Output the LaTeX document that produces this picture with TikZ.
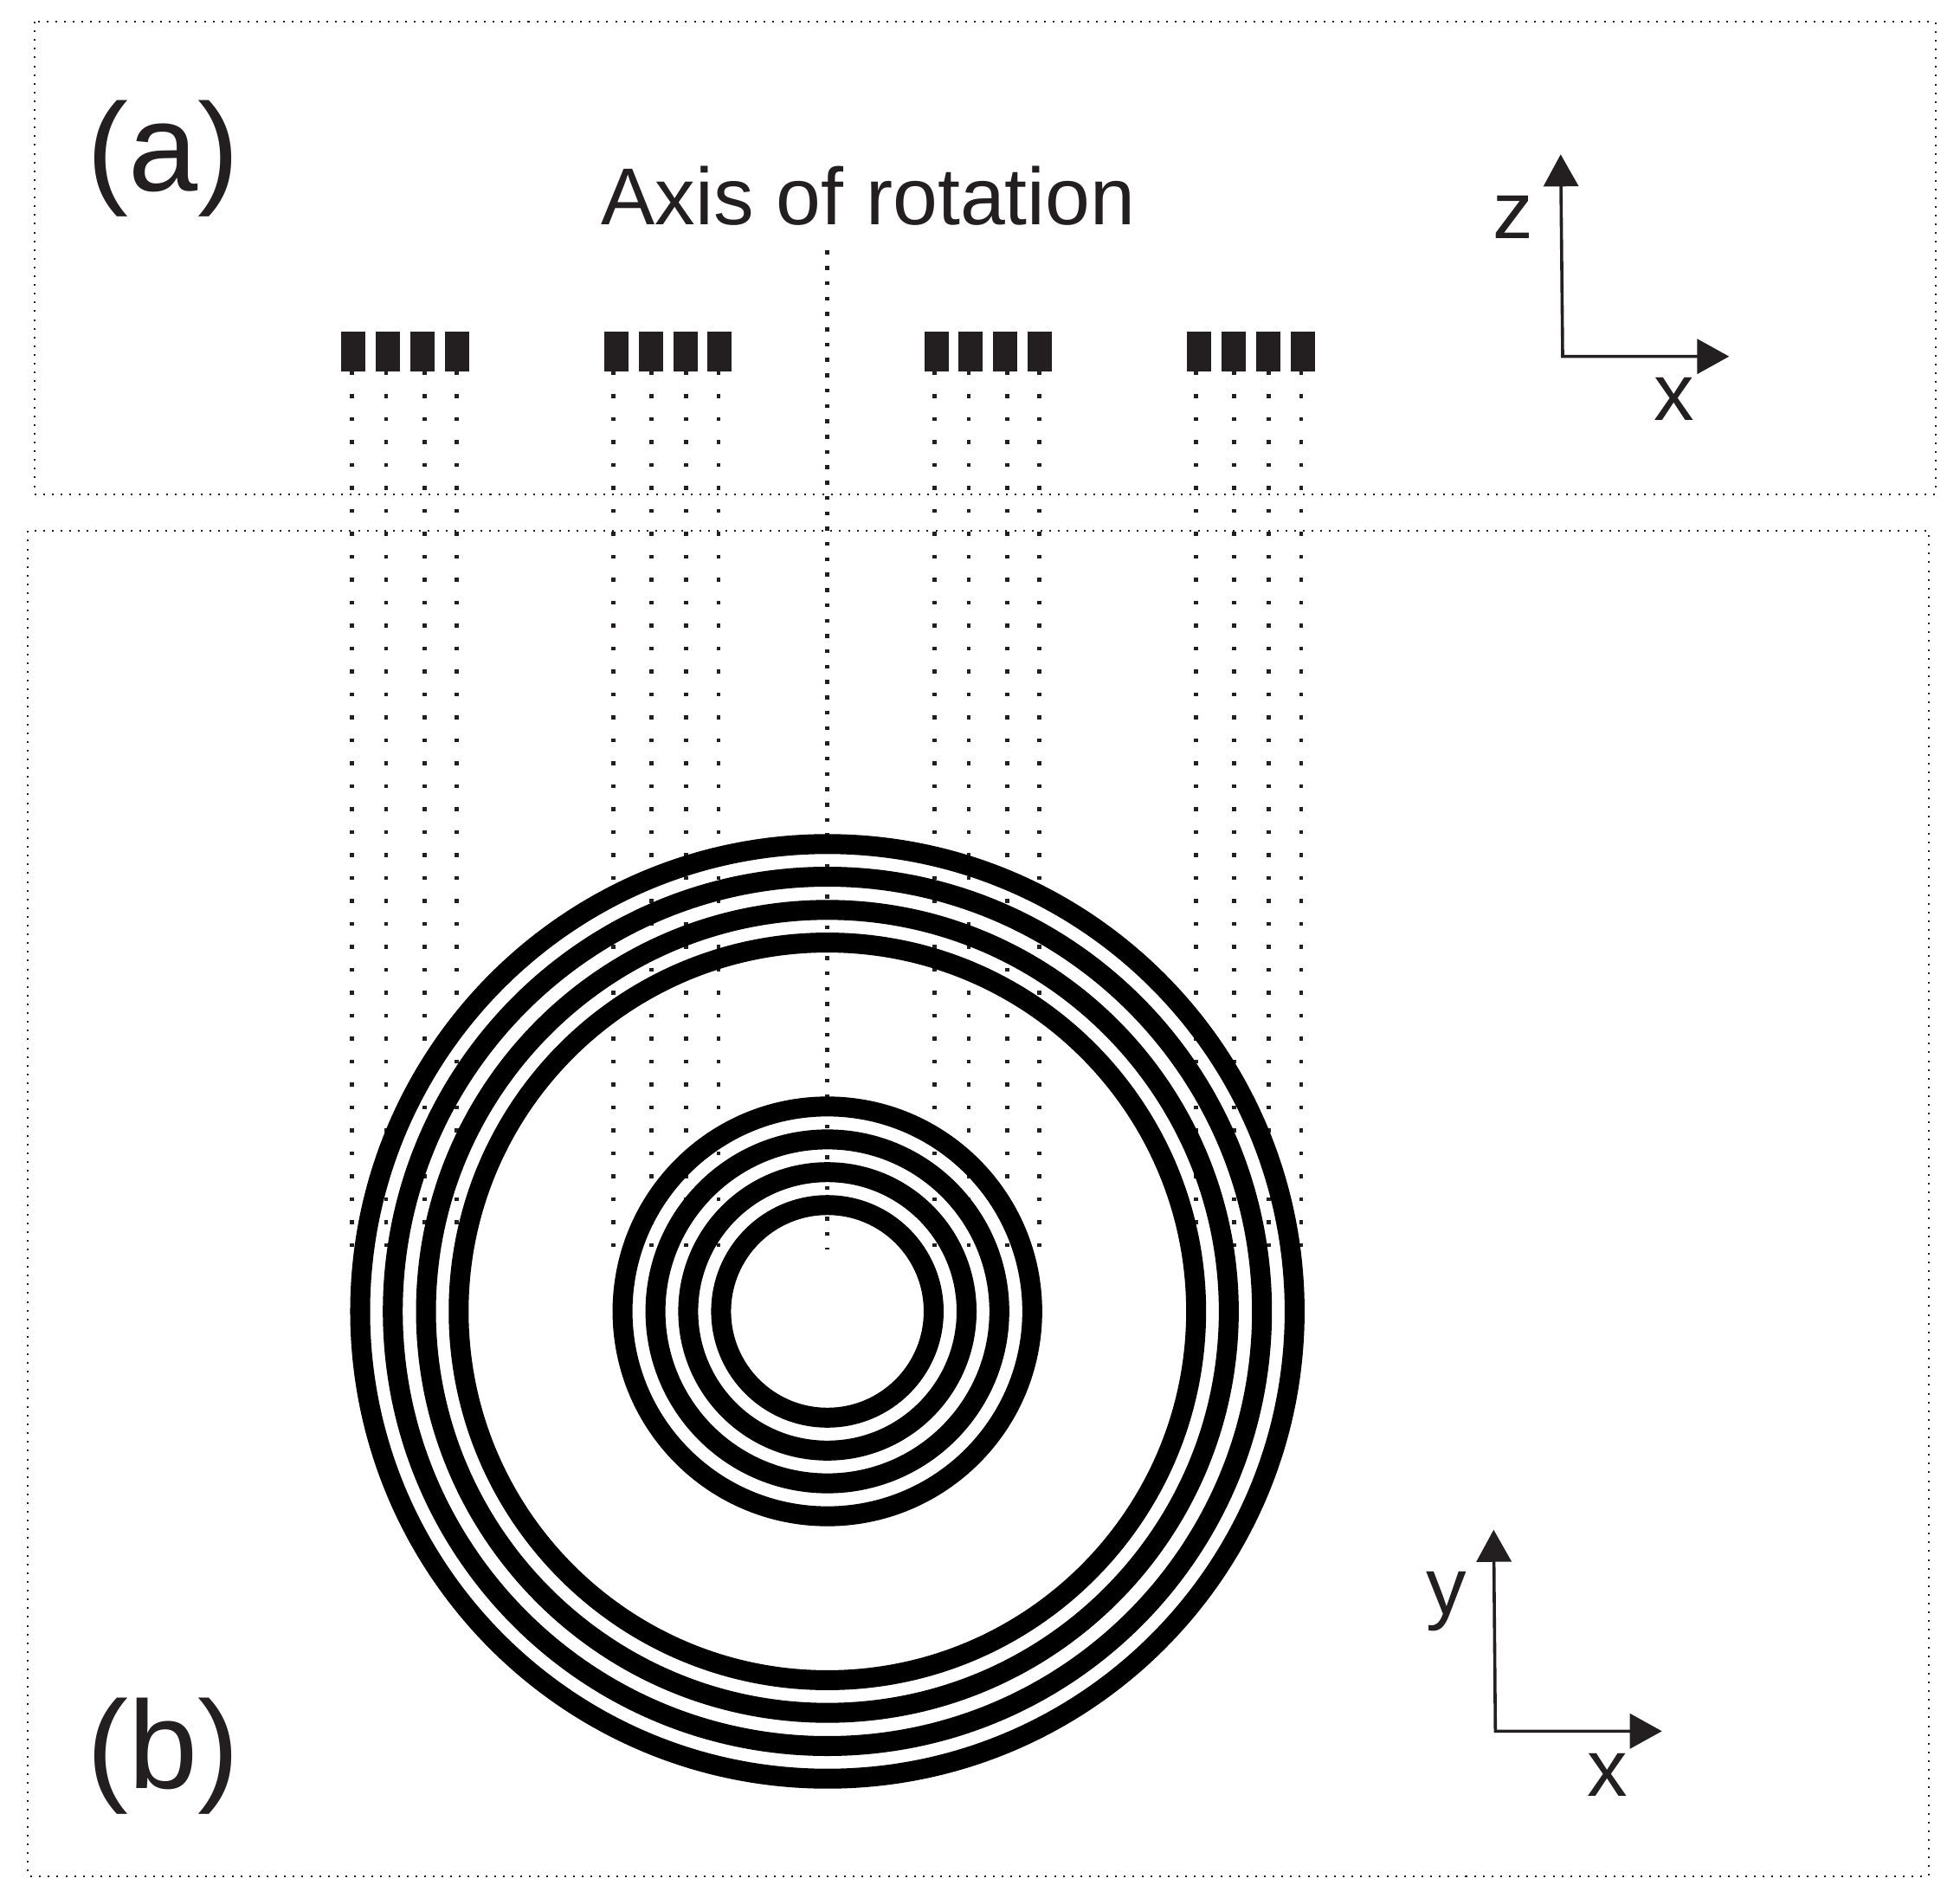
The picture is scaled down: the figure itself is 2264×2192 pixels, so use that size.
\documentclass[tikz,border=0pt]{standalone}
\usepackage{fontspec}
\setmainfont{Liberation Sans}
\usetikzlibrary{arrows.meta}
\definecolor{ink}{HTML}{231F20}

\begin{document}
\begin{tikzpicture}[x=0.01cm,y=-0.01cm]
       \tikzstyle{frame} = [draw=ink, line width=0.02cm, dash pattern=on 0.02cm off 0.081cm];
       \tikzstyle{coil} = [rectangle, fill=ink, inner sep=0pt, outer sep=0pt, minimum width=0.28cm, minimum height=0.455cm];
       \tikzstyle{drop} = [draw=ink, line width=0.045cm, dash pattern=on 0.045cm off 0.2198cm];
       \tikzstyle{spindle} = [draw=ink, line width=0.045cm, dash pattern=on 0.045cm off 0.132cm];
       \tikzstyle{ring} = [draw=black, line width=0.23cm];
       \tikzstyle{triad} = [draw=ink, line width=0.036cm, {Triangle[length=0.37cm,width=0.40cm]}-{Triangle[length=0.37cm,width=0.40cm]}];
       \tikzstyle{tag} = [text=ink, inner sep=0pt, anchor=base, font=\fontsize{26.5}{30}\selectfont];
       \tikzstyle{panel} = [text=ink, inner sep=0pt, anchor=base west, font=\fontsize{41}{44}\selectfont];

       \useasboundingbox (0,0) rectangle (2264,2192);

       % panels
       \draw[frame] (40,25) rectangle (2235.7,570.7);
       \draw[frame] (32.3,613.3) rectangle (2227.7,2166.7);
       \node[panel] (parta) at (100,220.5) {(a)};
       \node[panel] (partb) at (100,2065) {(b)};
       \node[tag] (axis) at (1003,260) {Axis of rotation};

       % coils, one block per side of the axis
       \node[coil] (a1) at (408.4,406) {};
       \node[coil] (a2) at (448,406) {};
       \node[coil] (a3) at (488,406) {};
       \node[coil] (a4) at (528,406) {};
       \node[coil] (b1) at (711.7,406) {};
       \node[coil] (b2) at (751.7,406) {};
       \node[coil] (b3) at (791.7,406) {};
       \node[coil] (b4) at (831.3,406) {};
       \node[coil] (c1) at (1081.5,406) {};
       \node[coil] (c2) at (1121.3,406) {};
       \node[coil] (c3) at (1161.3,406) {};
       \node[coil] (c4) at (1201,406) {};
       \node[coil] (d1) at (1385,406) {};
       \node[coil] (d2) at (1425,406) {};
       \node[coil] (d3) at (1464.7,406) {};
       \node[coil] (d4) at (1504.5,406) {};

       \coordinate (a1end) at (406.3,1440);
       \coordinate (a2end) at (446.1,1440);
       \coordinate (a3end) at (490.5,1440);
       \coordinate (a4end) at (527.6,1440);
       \coordinate (b1end) at (708.6,1440);
       \coordinate (b2end) at (752.6,1440);
       \coordinate (b3end) at (792.5,1440);
       \coordinate (b4end) at (830,1440);
       \coordinate (c1end) at (1079.3,1440);
       \coordinate (c2end) at (1119,1440);
       \coordinate (c3end) at (1163.3,1440);
       \coordinate (c4end) at (1200.7,1440);
       \coordinate (d1end) at (1381.7,1440);
       \coordinate (d2end) at (1425.7,1440);
       \coordinate (d3end) at (1465.7,1440);
       \coordinate (d4end) at (1503,1440);
       \coordinate (axistop) at (955.7,289.5);
       \coordinate (axisend) at (955.7,1443);

       \draw[drop] (a1.south -| a1end) -- (a1end);
       \draw[drop] (a2.south -| a2end) -- (a2end);
       \draw[drop] (a3.south -| a3end) -- (a3end);
       \draw[drop] (a4.south -| a4end) -- (a4end);
       \draw[drop] (b1.south -| b1end) -- (b1end);
       \draw[drop] (b2.south -| b2end) -- (b2end);
       \draw[drop] (b3.south -| b3end) -- (b3end);
       \draw[drop] (b4.south -| b4end) -- (b4end);
       \draw[drop] (c1.south -| c1end) -- (c1end);
       \draw[drop] (c2.south -| c2end) -- (c2end);
       \draw[drop] (c3.south -| c3end) -- (c3end);
       \draw[drop] (c4.south -| c4end) -- (c4end);
       \draw[drop] (d1.south -| d1end) -- (d1end);
       \draw[drop] (d2.south -| d2end) -- (d2end);
       \draw[drop] (d3.south -| d3end) -- (d3end);
       \draw[drop] (d4.south -| d4end) -- (d4end);
       \draw[spindle] (axistop) -- (axisend);

       % rings seen from above
       \coordinate (hub) at (955.7,1514.5);
       \draw[ring] (hub) circle [radius=5.394cm];
       \draw[ring] (hub) circle [radius=5.017cm];
       \draw[ring] (hub) circle [radius=4.634cm];
       \draw[ring] (hub) circle [radius=4.257cm];
       \draw[ring] (hub) circle [radius=2.365cm];
       \draw[ring] (hub) circle [radius=1.985cm];
       \draw[ring] (hub) circle [radius=1.607cm];
       \draw[ring] (hub) circle [radius=1.227cm];

       % axes
       \coordinate (ztip) at (1802.7,178.3);
       \coordinate (zcorner) at (1805,411.7);
       \coordinate (xtip) at (1997.3,411.7);
       \draw[triad] (ztip) -- (zcorner) -- (xtip);
       \node[tag] (zlabel) at (1747.5,276) {z};
       \node[tag] (xlabel) at (1933.3,485.7) {x};

       \coordinate (ytip) at (1725.3,1766.7);
       \coordinate (ycorner) at (1727.3,1999.3);
       \coordinate (xxtip) at (1919.7,1999.3);
       \draw[triad] (ytip) -- (ycorner) -- (xxtip);
       \node[tag] (ylabel) at (1670.7,1864) {y};
       \node[tag] (xxlabel) at (1856.3,2074.7) {x};
\end{tikzpicture}
\end{document}
